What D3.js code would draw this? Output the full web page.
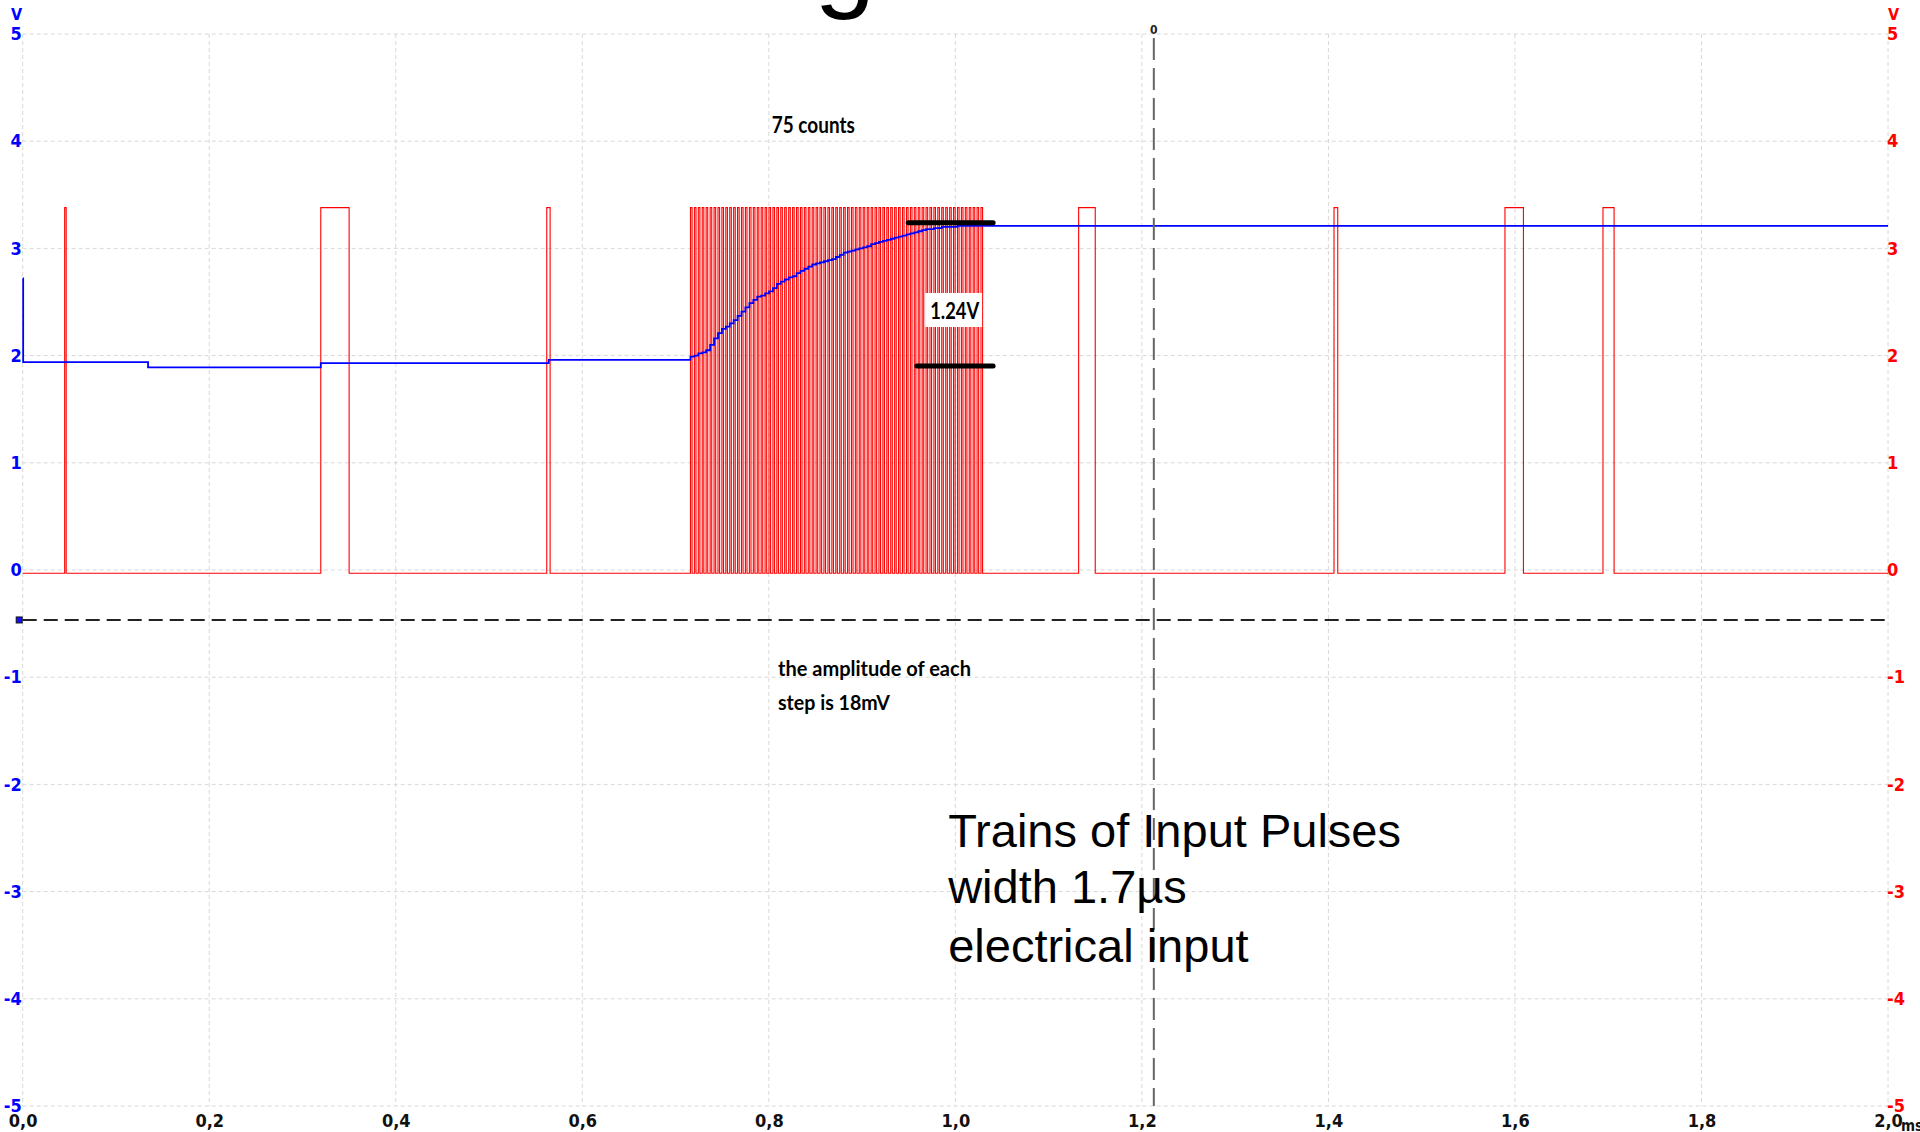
<!DOCTYPE html>
<html><head><meta charset="utf-8">
<script src="https://cdn.jsdelivr.net/npm/d3@7"></script>
<style>html,body{margin:0;padding:0;background:#fff;overflow:hidden}</style>
</head><body>
<svg id="c" width="1920" height="1132"></svg>
<script>
// ---- data ----
const xTicks = [0, 0.2, 0.4, 0.6, 0.8, 1.0, 1.2, 1.4, 1.6, 1.8, 2.0];
const yTicks = [-5, -4, -3, -2, -1, 0, 1, 2, 3, 4, 5];
const redLow = -0.03, redHigh = 3.38;
const singlePulseStarts = [0.0450, 0.3196, 0.5619, 1.1322, 1.4060, 1.5893, 1.6944];
const singlePulseEnds   = [0.0466, 0.3500, 0.5655, 1.1500, 1.4100, 1.6091, 1.7063];
const burstStarts = [
 0.7160,0.7202,0.7244,0.7286,0.7328,0.7371,0.7413,0.7455,0.7497,0.7539,
 0.7581,0.7623,0.7665,0.7707,0.7749,0.7792,0.7834,0.7876,0.7918,0.7960,
 0.8002,0.8044,0.8086,0.8128,0.8170,0.8213,0.8255,0.8297,0.8339,0.8381,
 0.8423,0.8465,0.8507,0.8549,0.8591,0.8634,0.8676,0.8718,0.8760,0.8802,
 0.8844,0.8886,0.8928,0.8970,0.9012,0.9055,0.9097,0.9139,0.9181,0.9223,
 0.9265,0.9307,0.9349,0.9391,0.9433,0.9476,0.9518,0.9560,0.9602,0.9644,
 0.9686,0.9728,0.9770,0.9812,0.9854,0.9897,0.9939,0.9981,1.0023,1.0065,
 1.0107,1.0149,1.0191,1.0233,1.0275];
const burstWidth = 0.0017;
const burstLevels = [
 1.99,2.00,2.02,2.03,2.05,2.10,2.16,2.21,2.25,2.27,
 2.30,2.33,2.37,2.41,2.45,2.49,2.52,2.55,2.56,2.58,
 2.60,2.63,2.67,2.69,2.71,2.73,2.74,2.77,2.79,2.81,
 2.83,2.85,2.86,2.87,2.88,2.89,2.90,2.92,2.94,2.96,
 2.97,2.98,2.99,3.00,3.01,3.02,3.04,3.05,3.06,3.07,
 3.08,3.09,3.10,3.11,3.12,3.13,3.14,3.15,3.16,3.17,
 3.18,3.18,3.19,3.19,3.20,3.20,3.20,3.20,3.21,3.21,
 3.21,3.21,3.21,3.21,3.21];
const bluePreT = [0, 0.0005, 0.1344, 0.3196, 0.5640];
const bluePreV = [2.72, 1.94, 1.89, 1.93, 1.96];
const bluePostT = [1.0292, 2.0];
const bluePostV = [3.21, 3.21];
const cursorT = 1.2128, cursorV = -0.466;
const barUpper = {t0: 0.9494, t1: 1.0405, v: 3.24};
const barLower = {t0: 0.9587, t1: 1.0405, v: 1.903};

// ---- scales ----
const svg = d3.select('#c');
const x = d3.scaleLinear().domain([0, 2]).range([22.7, 1888]);
const yL = d3.scaleLinear().domain([-5, 5]).range([1106, 34]);
const yR = d3.scaleLinear().domain([-5, 5]).range([1106, 34]);

const tickFont = "'Liberation Sans Narrow','Arial Narrow','DejaVu Sans Condensed',sans-serif";
const noteFont = "Lato,'Open Sans',sans-serif";

// grid
const grid = svg.append('g').attr('stroke', '#d8d8d8').attr('stroke-width', 1).attr('stroke-dasharray', '4,3');
grid.selectAll('line.v').data(xTicks).join('line').attr('class', 'v')
  .attr('x1', d => x(d)).attr('x2', d => x(d)).attr('y1', yL(5)).attr('y2', yL(-5));
grid.selectAll('line.h').data(yTicks).join('line').attr('class', 'h')
  .attr('x1', x(0)).attr('x2', x(2)).attr('y1', d => yL(d)).attr('y2', d => yL(d));

// red channel
const pulses = singlePulseStarts.map((s, i) => [s, singlePulseEnds[i]])
  .concat(burstStarts.map(s => [s, s + burstWidth]))
  .sort((a, b) => a[0] - b[0]);
const redPts = [[0, redLow]];
pulses.forEach(([s, e]) => { redPts.push([s, redLow], [s, redHigh], [e, redHigh], [e, redLow]); });
redPts.push([2, redLow]);
svg.append('path').datum(redPts)
  .attr('fill', 'none').attr('stroke', '#ff0000').attr('stroke-width', 1.1)
  .attr('d', d3.line().x(d => x(d[0])).y(d => yR(d[1])));

// blue channel
const bluePts = bluePreT.map((t, i) => [t, bluePreV[i]])
  .concat(burstStarts.map((t, i) => [t, burstLevels[i]]))
  .concat(bluePostT.map((t, i) => [t, bluePostV[i]]));
svg.append('path').datum(bluePts)
  .attr('fill', 'none').attr('stroke', '#0000ff').attr('stroke-width', 1.8)
  .attr('d', d3.line().curve(d3.curveStepAfter).x(d => x(d[0])).y(d => yL(d[1])));

// cursors
svg.append('line').attr('x1', x(0)).attr('x2', x(2)).attr('y1', yL(cursorV)).attr('y2', yL(cursorV))
  .attr('stroke', '#222').attr('stroke-width', 2).attr('stroke-dasharray', '14,7');
svg.append('rect').attr('x', x(0) - 6.5).attr('y', yL(cursorV) - 3).attr('width', 6).attr('height', 6)
  .attr('fill', '#1010ff').attr('stroke', '#111').attr('stroke-width', 1);
svg.append('line').attr('x1', x(cursorT)).attr('x2', x(cursorT)).attr('y1', 38).attr('y2', yL(-5))
  .attr('stroke', '#666').attr('stroke-width', 2).attr('stroke-dasharray', '22,8');
svg.append('text').attr('x', x(cursorT)).attr('y', 33.5).attr('text-anchor', 'middle')
  .attr('font-family', tickFont).attr('font-weight', 'bold').attr('font-size', 12).attr('fill', '#222').text('0');

// black bars
[barUpper, barLower].forEach(b => {
  svg.append('line').attr('x1', x(b.t0)).attr('x2', x(b.t1)).attr('y1', yL(b.v)).attr('y2', yL(b.v))
    .attr('stroke', '#000').attr('stroke-width', 5).attr('stroke-linecap', 'round');
});

// annotations
function note(t, v, txt, len, size) {
  return svg.append('text').attr('x', x(t)).attr('y', yL(v))
    .attr('font-family', noteFont).attr('font-weight', 700).attr('font-size', size).attr('fill', '#000')
    .attr('textLength', len).attr('lengthAdjust', 'spacingAndGlyphs').text(txt);
}
note(0.8032, 4.074, '75 counts', 83, 22);
svg.append('rect').attr('x', x(0.9676)).attr('y', yL(2.584)).attr('width', x(1.0287) - x(0.9676))
  .attr('height', yL(2.267) - yL(2.584)).attr('fill', '#fff');
note(0.9730, 2.339, '1.24V', 49, 23);
note(0.8098, -0.993, 'the amplitude of each', 193, 20);
note(0.8098, -1.306, 'step is 18mV', 112, 20);

const bigLines = [['Trains of Input Pulses', -2.581], ['width 1.7µs', -3.109], ['electrical input', -3.654]];
bigLines.forEach(([txt, v]) => {
  svg.append('text').attr('x', x(0.9923)).attr('y', yL(v))
    .attr('font-family', "'Liberation Sans',Arial,sans-serif").attr('font-size', 47).attr('fill', '#000').text(txt);
});
svg.append('text').attr('x', x(0.8486)).attr('y', yL(5.345))
  .attr('font-family', "'Liberation Sans',Arial,sans-serif").attr('font-size', 110).attr('fill', '#000').text('g');

// axes
const fmtX = d => d3.format('.1f')(d).replace('.', ',');
const fmtY = d => String(d);
const ax = svg.append('g').attr('transform', `translate(0,${yL(-5)})`)
  .call(d3.axisBottom(x).tickValues(xTicks).tickSize(0).tickPadding(8).tickFormat(fmtX));
ax.select('.domain').remove();
ax.selectAll('text').attr('font-family', tickFont).attr('font-weight', 'bold').attr('font-size', 18)
  .attr('font-stretch', 'condensed').attr('fill', '#111');

const al = svg.append('g').attr('transform', `translate(${x(0)},0)`)
  .call(d3.axisLeft(yL).tickValues(yTicks).tickSize(0).tickPadding(1).tickFormat(fmtY));
al.select('.domain').remove();
al.selectAll('text').attr('font-family', tickFont).attr('font-weight', 'bold').attr('font-size', 18)
  .attr('font-stretch', 'condensed').attr('fill', '#0000ff');

const ar = svg.append('g').attr('transform', `translate(${x(2)},0)`)
  .call(d3.axisRight(yR).tickValues(yTicks).tickSize(0).tickPadding(-1).tickFormat(fmtY));
ar.select('.domain').remove();
ar.selectAll('text').attr('font-family', tickFont).attr('font-weight', 'bold').attr('font-size', 18)
  .attr('font-stretch', 'condensed').attr('fill', '#ff0000');

// units
svg.append('text').attr('x', x(0) - 0.5).attr('y', 20).attr('text-anchor', 'end')
  .attr('font-family', tickFont).attr('font-weight', 'bold').attr('font-size', 16).attr('fill', '#0000ff').text('V');
svg.append('text').attr('x', x(2)).attr('y', 20).attr('text-anchor', 'start')
  .attr('font-family', tickFont).attr('font-weight', 'bold').attr('font-size', 16).attr('fill', '#ff0000').text('V');
svg.append('text').attr('x', 1901).attr('y', 1131)
  .attr('font-family', tickFont).attr('font-weight', 'bold').attr('font-size', 15).attr('fill', '#111').text('ms');
</script>
</body></html>
